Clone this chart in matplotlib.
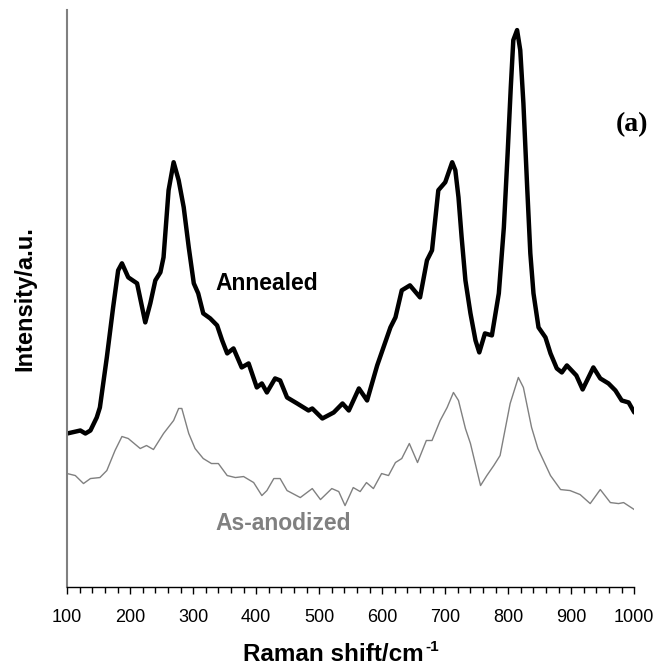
import matplotlib
matplotlib.use("Agg")
import matplotlib.pyplot as plt
from matplotlib.ticker import MultipleLocator

# --- Data (intensity in arbitrary units) ---
annealed_shift = [100, 121, 129, 137, 147, 152, 163, 173, 181, 187, 197, 211, 219, 224,
                  232, 240, 248, 253, 261, 269, 277, 285, 293, 301, 308, 316, 327, 338,
                  346, 354, 364, 377, 388, 401, 409, 417, 430, 438, 449, 465, 483, 489,
                  505, 523, 537, 547, 563, 576, 592, 613, 621, 631, 644, 660, 671, 679,
                  684, 689, 700, 711, 716, 721, 726, 732, 740, 748, 754, 763, 774, 785,
                  793, 799, 804, 808, 814, 819, 824, 830, 835, 840, 848, 859, 867, 877,
                  885, 893, 908, 918, 935, 946, 959, 970, 980, 991, 1000]
annealed_int = [153, 156, 153, 156, 169, 179, 229, 279, 316, 323, 309, 303, 279, 264,
                283, 306, 314, 329, 396, 424, 406, 379, 339, 303, 293, 273, 268, 261,
                246, 233, 238, 219, 223, 199, 203, 194, 208, 206, 189, 183, 176, 178,
                168, 174, 183, 176, 198, 186, 221, 259, 269, 296, 301, 289, 326, 336,
                366, 396, 404, 424, 416, 389, 349, 306, 273, 246, 234, 253, 251, 293,
                359, 433, 499, 546, 556, 536, 483, 399, 333, 293, 259, 249, 233, 218,
                214, 221, 211, 197, 219, 208, 203, 196, 186, 184, 174]

anodized_shift = [100, 113, 126, 137, 152, 163, 176, 187, 197, 216, 226, 237, 253, 269,
                  277, 282, 293, 303, 316, 329, 340, 354, 367, 380, 396, 409, 417, 428,
                  438, 449, 470, 489, 502, 520, 531, 541, 554, 565, 575, 586, 599, 610,
                  621, 631, 643, 656, 670, 679, 692, 703, 713, 721, 732, 740, 756, 766,
                  777, 787, 803, 816, 824, 837, 847, 867, 883, 898, 914, 930, 946, 962,
                  975, 983, 1000]
anodized_int = [113, 111, 103, 108, 109, 116, 136, 150, 148, 138, 141, 137, 153, 166,
                178, 178, 153, 138, 128, 123, 123, 111, 109, 110, 104, 91, 96, 108,
                108, 96, 89, 98, 87, 98, 95, 81, 99, 95, 104, 98, 113, 111,
                124, 128, 143, 124, 146, 146, 166, 179, 194, 186, 158, 143, 101, 111,
                121, 131, 183, 209, 199, 159, 138, 111, 97, 96, 92, 83, 97, 84,
                83, 84, 77]

plt.rcParams["font.family"] = ["Liberation Sans", "DejaVu Sans"]

fig = plt.figure(figsize=(6.58, 6.72), dpi=100)
ax = fig.add_axes([0.102, 0.127, 0.862, 0.858])

ax.plot(annealed_shift, annealed_int, color="black", lw=3.2,
        solid_joinstyle="round", solid_capstyle="round")
ax.plot(anodized_shift, anodized_int, color="#808080", lw=1.0, solid_joinstyle="round")

# curve labels
ax.text(416, 303, "Annealed", fontsize=16.5, fontweight="bold", ha="center", va="center")
ax.text(443, 63, "As-anodized", fontsize=16.5, fontweight="bold", color="#808080",
        ha="center", va="center")
ax.text(997, 462, "(a)", fontsize=20, fontweight="bold", family="Liberation Serif",
        ha="center", va="center")

ax.set_xlim(100, 1000)
ax.set_ylim(0, 576)
ax.xaxis.set_major_locator(MultipleLocator(100))
ax.xaxis.set_minor_locator(MultipleLocator(20))
ax.tick_params(axis="x", which="major", direction="out", length=5, width=1,
               labelsize=13, pad=11)
ax.tick_params(axis="x", which="minor", direction="out", length=4, width=1)
ax.set_yticks([])

for side in ("top", "right"):
    ax.spines[side].set_visible(False)
ax.spines["left"].set_color("#808080")
ax.spines["left"].set_linewidth(1.5)
ax.spines["bottom"].set_linewidth(1.0)

ax.set_xlabel("Raman shift/cm", fontsize=17.5, fontweight="bold", labelpad=12)
ax.xaxis.label.set_x(0.47)
ax.annotate("-1", xy=(1.0, 1.0), xycoords=ax.xaxis.label, xytext=(1, 2),
            textcoords="offset points", fontsize=11, fontweight="bold",
            ha="left", va="top")
ax.set_ylabel("Intensity/a.u.", fontsize=17, fontweight="bold", labelpad=22)

fig.savefig("out.png", dpi=100)
